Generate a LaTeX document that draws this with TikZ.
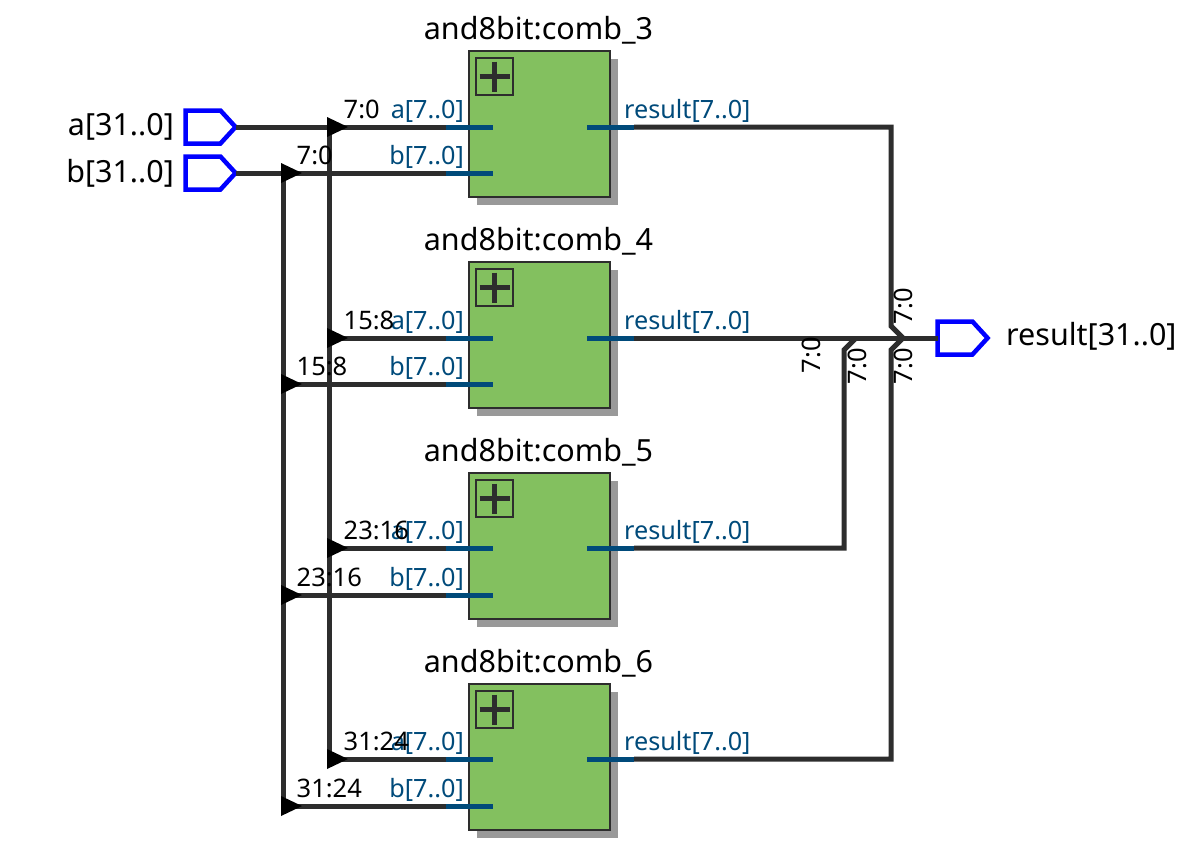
\documentclass[tikz,border=0pt]{standalone}
\usepackage{fontspec}
\setmainfont{Noto Sans}
\usetikzlibrary{shapes.symbols}
\definecolor{modgreen}{HTML}{83C05F}
\definecolor{pinblue}{HTML}{004A7A}
\definecolor{wiregray}{HTML}{2D2D2D}
\tikzset{
	modbox/.style={draw=wiregray, fill=modgreen, line width=2pt, minimum width=141, minimum height=146, inner sep=0, outer sep=0},
	plusbox/.style={draw=wiregray, line width=2pt, minimum size=37, inner sep=0, outer sep=0},
	port/.style={signal, signal to=east, draw=blue, line width=4.5pt, fill=white, minimum width=50, minimum height=33, signal pointer angle=95, inner sep=0, outer sep=0},
	wire/.style={draw=wiregray, line width=5pt},
	pin/.style={draw=pinblue, line width=5pt},
	title/.style={font=\fontsize{30.5}{34}\selectfont, anchor=base, inner sep=0},
	pinlabel/.style={font=\fontsize{25.2}{28}\selectfont, text=pinblue, anchor=base, inner sep=0},
	buslabel/.style={font=\fontsize{25.5}{28}\selectfont, anchor=base west, inner sep=0},
	sidelabel/.style={font=\fontsize{25.5}{28}\selectfont, rotate=90, inner sep=0}
}
\begin{document}
\begin{tikzpicture}[x=1pt,y=-1pt]
	\useasboundingbox (0,0) rectangle (1190,844);
	\node[port] (aport) at (203,127) {};
	\node[port] (bport) at (203,173) {};
	\node[port] (resultport) at (955,338) {};
	\node[title, anchor=base east] (aname) at (174,135) {a[31..0]};
	\node[title, anchor=base east] (bname) at (174,182) {b[31..0]};
	\node[title, anchor=base west] (resultname) at (1006,345) {result[31..0]};
	\coordinate (atop) at (329,127);
	\coordinate (btop) at (283,173);
	\coordinate (abot) at (329,759);
	\coordinate (bbot) at (283,806);
	\draw[wire] (aport.east) -- (atop) -- (abot);
	\draw[wire] (bport.east) -- (btop) -- (bbot);
	\foreach \n/\t/\ya/\yb/\la/\lb in {3/51/127/173/7:0/7:0, 4/262/338/384/15:8/15:8, 5/473/548/595/23:16/23:16, 6/684/759/806/31:24/31:24} {
		\fill[black!40] (477,\t+8) rectangle (618,\t+154);
		\node[modbox, anchor=north west] (comb\n) at (469,\t) {};
		\node[plusbox, anchor=north west] (plus\n) at (476,\t+7) {};
		\draw[wiregray, line width=5pt] (plus\n.center) ++(-15,0) -- ++(30,0) (plus\n.center) ++(0,-15) -- ++(0,30);
		\node[title] (name\n) at (538.5,\t-12) {and8bit:comb\_\n};
		\coordinate (atap\n) at (329,\ya);
		\coordinate (btap\n) at (283,\yb);
		\coordinate (apin\n) at (446,\ya);
		\coordinate (bpin\n) at (446,\yb);
		\coordinate (ain\n) at (493,\ya);
		\coordinate (bin\n) at (493,\yb);
		\coordinate (rout\n) at (587,\ya);
		\coordinate (rpin\n) at (634,\ya);
		\draw[wire] (atap\n) -- (apin\n);
		\draw[wire] (btap\n) -- (bpin\n);
		\draw[pin] (apin\n) -- (ain\n);
		\draw[pin] (bpin\n) -- (bin\n);
		\draw[pin] (rout\n) -- (rpin\n);
		\fill[black] (327,\ya-10) -- (348,\ya) -- (327,\ya+10) -- cycle;
		\fill[black] (281,\yb-10) -- (302,\yb) -- (281,\yb+10) -- cycle;
		\node[pinlabel, anchor=base east] (alabel\n) at (464,\ya-9) {a[7..0]};
		\node[pinlabel, anchor=base east] (blabel\n) at (464,\yb-9) {b[7..0]};
		\node[pinlabel, anchor=base west] (rlabel\n) at (624,\ya-9) {result[7..0]};
		\node[buslabel] (abus\n) at (343.5,\ya-9) {\la};
		\node[buslabel] (bbus\n) at (296.5,\yb-9) {\lb};
	}
	\coordinate (joinc) at (891,326);
	\coordinate (joine) at (844,350);
	\coordinate (joinf) at (891,350);
	\coordinate (tipc) at (903,338);
	\coordinate (tipe) at (856,338);
	\draw[wire] (rpin3) -| (joinc) -- (tipc);
	\draw[wire] (rpin4) -- (resultport.west);
	\draw[wire] (rpin5) -| (joine) -- (tipe);
	\draw[wire] (rpin6) -| (joinf) -- (tipc);
	\node[sidelabel] (side3) at (903,306) {7:0};
	\node[sidelabel] (side4) at (811,355) {7:0};
	\node[sidelabel] (side5) at (857,366) {7:0};
	\node[sidelabel] (side6) at (903,366) {7:0};
\end{tikzpicture}
\end{document}
